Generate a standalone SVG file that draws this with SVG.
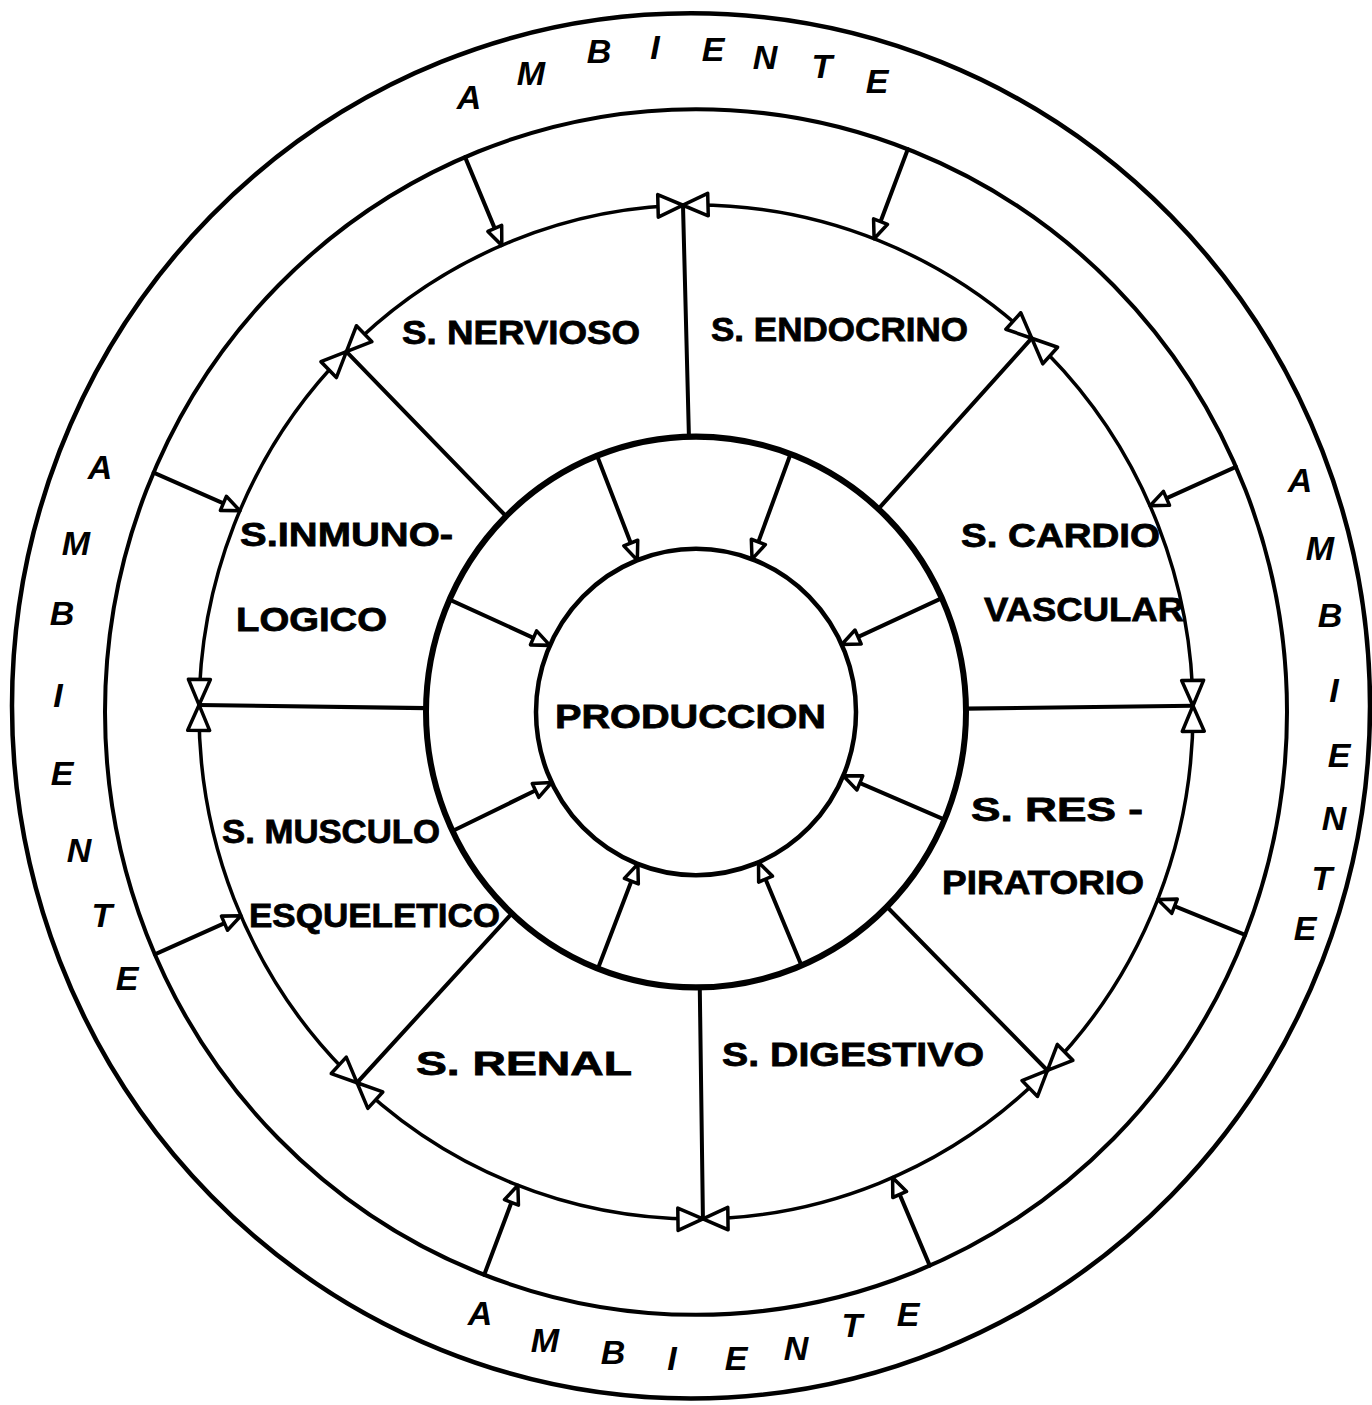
<svg xmlns="http://www.w3.org/2000/svg" width="1372" height="1405" viewBox="0 0 1372 1405">
<style>
.ring{fill:none;stroke:#000}
.ln{stroke:#000;stroke-width:4;fill:none;stroke-linecap:round}
.hd{fill:#fff;stroke:#000;stroke-width:3.5;stroke-linejoin:round}
.lbl{font-family:"Liberation Sans",Arial,sans-serif;font-weight:bold;font-size:34px;fill:#000;stroke:#000;stroke-width:0.8}
.amb{font-family:"Liberation Sans",Arial,sans-serif;font-weight:bold;font-style:italic;font-size:34px;fill:#000;text-anchor:middle}
</style>
<defs>
<g id="bow"><polygon class="hd" points="0,0 -25,-11 -25,11"/><polygon class="hd" points="0,0 25,-11 25,11"/></g>
<g id="envc"><line class="ln" x1="0" y1="-591" x2="0" y2="-513"/><polygon class="hd" points="0,-497 -7.5,-515 7.5,-515"/></g>
<g id="inc"><line class="ln" x1="0" y1="-270" x2="0" y2="-177"/><polygon class="hd" points="0,-160 -7.5,-178 7.5,-178"/></g>
<line id="spoke" class="ln" x1="0" y1="-270" x2="0" y2="-497"/>
</defs>
<rect width="1372" height="1405" fill="#fff"/>
<g transform="translate(696,712) scale(1,1.02)">
<g id="rings">
<circle class="ring" cx="-5" cy="-6" r="679" stroke-width="4.5"/>
<circle class="ring" r="591" stroke-width="4"/>
<circle class="ring" r="497" stroke-width="3.5"/>
<circle class="ring" r="270" stroke-width="6"/>
<circle class="ring" r="160" stroke-width="4.5"/>
</g>
<g id="connectors">
<use href="#spoke" transform="rotate(-1.5)"/>
<use href="#spoke" transform="rotate(42.5)"/>
<use href="#spoke" transform="rotate(89.3)"/>
<use href="#spoke" transform="rotate(135)"/>
<use href="#spoke" transform="rotate(179.2)"/>
<use href="#spoke" transform="rotate(223)"/>
<use href="#spoke" transform="rotate(270.8)"/>
<use href="#spoke" transform="rotate(315.3)"/>
<use href="#envc" transform="rotate(337)"/>
<use href="#envc" transform="rotate(21)"/>
<use href="#envc" transform="rotate(66)"/>
<use href="#envc" transform="rotate(111.7)"/>
<use href="#envc" transform="rotate(156.7)"/>
<use href="#envc" transform="rotate(201)"/>
<use href="#envc" transform="rotate(246.3)"/>
<use href="#envc" transform="rotate(293.4)"/>
<use href="#inc" transform="rotate(338.5)"/>
<use href="#inc" transform="rotate(20.5)"/>
<use href="#inc" transform="rotate(65.6)"/>
<use href="#inc" transform="rotate(113)"/>
<use href="#inc" transform="rotate(157)"/>
<use href="#inc" transform="rotate(201.3)"/>
<use href="#inc" transform="rotate(244.4)"/>
<use href="#inc" transform="rotate(294.1)"/>
<use href="#bow" transform="rotate(-1.5) translate(0,-497)"/>
<use href="#bow" transform="rotate(42.5) translate(0,-497)"/>
<use href="#bow" transform="rotate(89.3) translate(0,-497)"/>
<use href="#bow" transform="rotate(135) translate(0,-497)"/>
<use href="#bow" transform="rotate(179.2) translate(0,-497)"/>
<use href="#bow" transform="rotate(223) translate(0,-497)"/>
<use href="#bow" transform="rotate(270.8) translate(0,-497)"/>
<use href="#bow" transform="rotate(315.3) translate(0,-497)"/>
</g>
</g>
<g id="ambiente">
<text class="amb" x="469" y="109">A</text>
<text class="amb" x="531" y="85">M</text>
<text class="amb" x="599" y="63">B</text>
<text class="amb" x="655" y="59">I</text>
<text class="amb" x="713" y="61">E</text>
<text class="amb" x="765" y="69">N</text>
<text class="amb" x="822" y="78">T</text>
<text class="amb" x="877" y="93">E</text>
<text class="amb" x="100" y="479">A</text>
<text class="amb" x="76" y="555">M</text>
<text class="amb" x="62" y="625">B</text>
<text class="amb" x="58" y="707">I</text>
<text class="amb" x="62" y="785">E</text>
<text class="amb" x="79" y="862">N</text>
<text class="amb" x="102" y="927">T</text>
<text class="amb" x="127" y="990">E</text>
<text class="amb" x="1300" y="492">A</text>
<text class="amb" x="1320" y="560">M</text>
<text class="amb" x="1330" y="627">B</text>
<text class="amb" x="1334" y="702">I</text>
<text class="amb" x="1339" y="767">E</text>
<text class="amb" x="1334" y="830">N</text>
<text class="amb" x="1322" y="890">T</text>
<text class="amb" x="1305" y="940">E</text>
<text class="amb" x="480" y="1325">A</text>
<text class="amb" x="545" y="1352">M</text>
<text class="amb" x="613" y="1364">B</text>
<text class="amb" x="672" y="1370">I</text>
<text class="amb" x="736" y="1370">E</text>
<text class="amb" x="796" y="1360">N</text>
<text class="amb" x="852" y="1337">T</text>
<text class="amb" x="908" y="1326">E</text>
</g>
<g id="s-nervioso"><text class="lbl" x="402" y="344" textLength="238" lengthAdjust="spacingAndGlyphs">S. NERVIOSO</text></g>
<g id="s-endocrino"><text class="lbl" x="711" y="341" textLength="257" lengthAdjust="spacingAndGlyphs">S. ENDOCRINO</text></g>
<g id="s-cardiovascular"><text class="lbl" x="961" y="547" textLength="199" lengthAdjust="spacingAndGlyphs">S. CARDIO</text><text class="lbl" x="984" y="621" textLength="200" lengthAdjust="spacingAndGlyphs">VASCULAR</text></g>
<g id="s-respiratorio"><text class="lbl" x="971" y="821" textLength="172" lengthAdjust="spacingAndGlyphs">S. RES -</text><text class="lbl" x="942" y="894" textLength="202" lengthAdjust="spacingAndGlyphs">PIRATORIO</text></g>
<g id="s-digestivo"><text class="lbl" x="722" y="1066" textLength="262" lengthAdjust="spacingAndGlyphs">S. DIGESTIVO</text></g>
<g id="s-renal"><text class="lbl" x="416" y="1075" textLength="216" lengthAdjust="spacingAndGlyphs">S. RENAL</text></g>
<g id="s-musculoesqueletico"><text class="lbl" x="222" y="843" textLength="218" lengthAdjust="spacingAndGlyphs">S. MUSCULO</text><text class="lbl" x="249" y="927" textLength="251" lengthAdjust="spacingAndGlyphs">ESQUELETICO</text></g>
<g id="s-inmunologico"><text class="lbl" x="240" y="546" textLength="213" lengthAdjust="spacingAndGlyphs">S.INMUNO-</text><text class="lbl" x="236" y="631" textLength="151" lengthAdjust="spacingAndGlyphs">LOGICO</text></g>
<g id="produccion"><text class="lbl" x="555" y="728" textLength="271" lengthAdjust="spacingAndGlyphs">PRODUCCION</text></g>
</svg>
